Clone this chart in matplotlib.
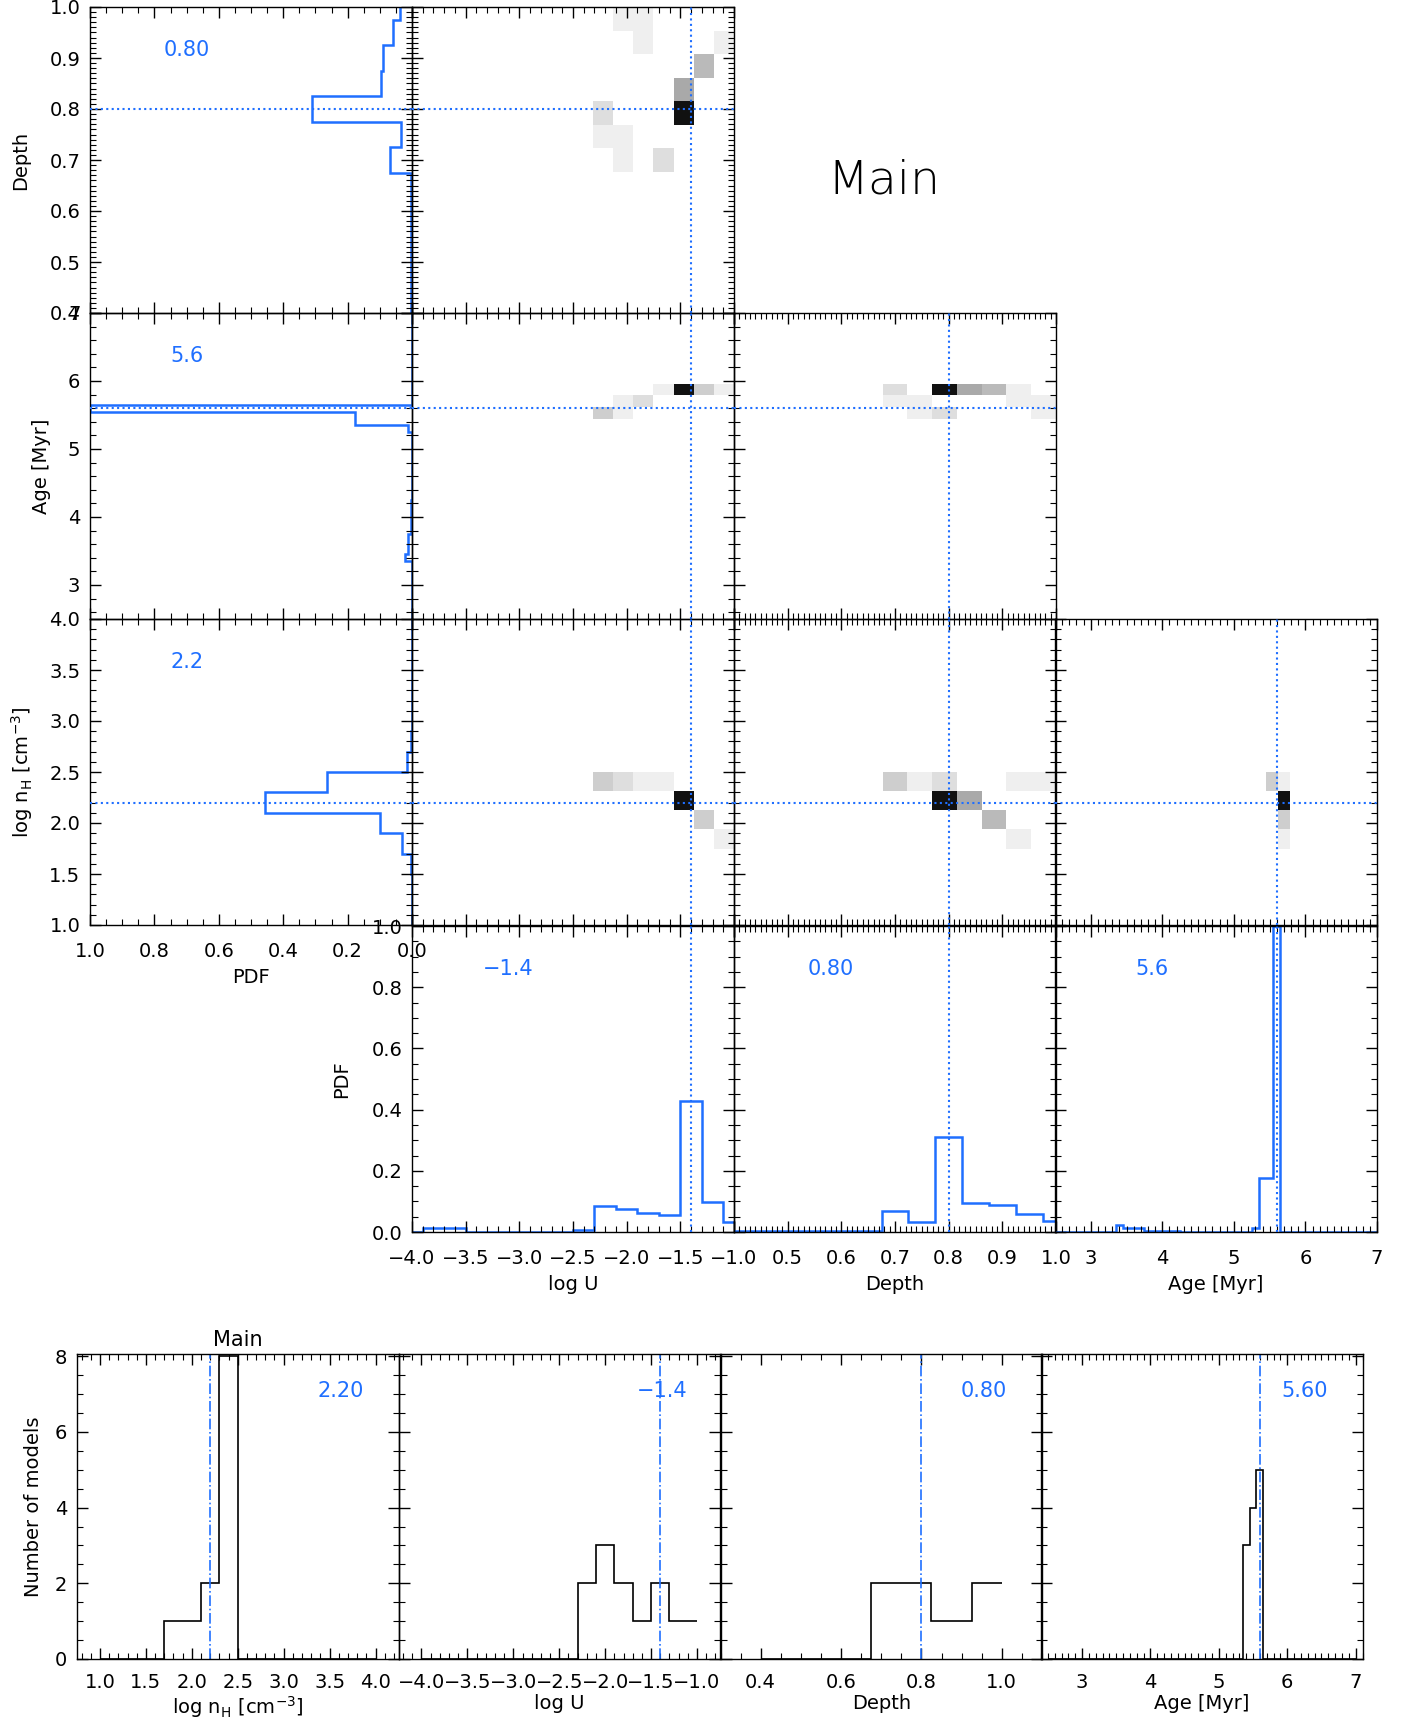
import matplotlib
matplotlib.use("Agg")
import matplotlib.pyplot as plt
import numpy as np
from matplotlib.ticker import MultipleLocator, FuncFormatter, NullFormatter
from matplotlib.colors import LinearSegmentedColormap

BLUE = "#1f6fff"
FS = 14

# ---------------- data ----------------
logu_grid = np.round(np.arange(-4.0, -0.99, 0.2), 2)    # 16 models
depth_grid = np.round(np.arange(0.40, 1.001, 0.05), 3)  # 13 models
nh_grid = np.round(np.arange(1.0, 4.001, 0.2), 2)       # 16 models
age_grid = np.round(np.arange(2.5, 7.001, 0.1), 2)      # fine age grid

logu_pdf = [0.0, 0.014, 0.014, 0.0, 0.0, 0.0, 0.0, 0.0,
            0.008, 0.085, 0.074, 0.062, 0.055, 0.428, 0.098, 0.033]
depth_pdf = [0.002, 0.002, 0.002, 0.002, 0.002, 0.003, 0.068,
             0.034, 0.312, 0.096, 0.089, 0.058, 0.037]
nh_pdf = [0.0, 0.0, 0.0, 0.003, 0.032, 0.100, 0.456, 0.265,
          0.015, 0.004, 0.0, 0.0, 0.0, 0.0, 0.0, 0.0]
age_pdf_at = [3.4, 3.5, 3.6, 3.7, 3.8, 3.9, 4.0, 4.1, 4.2, 5.3, 5.4, 5.5, 5.6]
age_pdf_val = [0.022, 0.012, 0.012, 0.012, 0.004, 0.004, 0.004, 0.004, 0.003,
               0.012, 0.178, 0.178, 1.0]

best = {"logu": -1.4, "depth": 0.80, "age": 5.6, "nh": 2.2}
best_txt = {"logu": "\u22121.4", "depth": "0.80", "age": "5.6", "nh": "2.2"}
best_txt_bottom = {"nh": "2.20", "logu": "\u22121.4", "depth": "0.80", "age": "5.60"}

# 2D probability maps: (x index, y index, darkness)
n_cells = {"logu": 16, "depth": 13, "nh": 16, "age": 26}
cells = {
    ("logu", "depth"): [(10, 12, 0.07), (11, 12, 0.07), (11, 11, 0.07), (15, 11, 0.07),
                        (14, 10, 0.29), (13, 9, 0.36), (13, 8, 1.0), (9, 8, 0.14),
                        (9, 7, 0.07), (10, 7, 0.07), (10, 6, 0.07), (12, 6, 0.14)],
    ("logu", "age"): [(12, 19, 0.07), (13, 19, 1.0), (14, 19, 0.21), (15, 19, 0.07),
                      (10, 18, 0.07), (11, 18, 0.14), (9, 17, 0.21), (10, 17, 0.07)],
    ("depth", "age"): [(6, 19, 0.14), (8, 19, 1.0), (9, 19, 0.36), (10, 19, 0.29),
                       (11, 19, 0.07), (6, 18, 0.07), (7, 18, 0.07), (11, 18, 0.07),
                       (12, 18, 0.07), (7, 17, 0.07), (8, 17, 0.14), (12, 17, 0.07)],
    ("logu", "nh"): [(9, 7, 0.21), (10, 7, 0.14), (11, 7, 0.07), (12, 7, 0.07),
                     (13, 6, 1.0), (14, 5, 0.21), (15, 4, 0.07)],
    ("depth", "nh"): [(6, 7, 0.21), (7, 7, 0.07), (8, 7, 0.14), (11, 7, 0.07),
                      (12, 7, 0.07), (8, 6, 1.0), (9, 6, 0.36), (10, 5, 0.29),
                      (11, 4, 0.07)],
    ("age", "nh"): [(17, 7, 0.21), (18, 7, 0.07), (18, 6, 1.0), (18, 5, 0.21),
                    (18, 4, 0.07)],
}

# number of models histograms (bottom row)
nh_counts = [0, 0, 0, 0, 1, 1, 2, 8, 0, 0, 0, 0, 0, 0, 0, 0]
logu_counts = [0, 0, 0, 0, 0, 0, 0, 0, 0, 2, 3, 2, 1, 2, 1, 1]
depth_counts = [0, 0, 0, 0, 0, 0, 2, 2, 2, 1, 1, 2, 2]
age_count_at = [5.4, 5.5, 5.6]
age_count_val = [3, 4, 5]

labels = {"logu": "log U", "depth": "Depth", "age": "Age [Myr]",
          "nh": r"log n$_{\rm H}$ [cm$^{-3}$]"}

# ---------------- helpers ----------------
age_pdf = np.zeros(len(age_grid))
age_counts = np.zeros(len(age_grid))
for a, v in zip(age_pdf_at, age_pdf_val):
    age_pdf[np.argmin(np.abs(age_grid - a))] = v
for a, v in zip(age_count_at, age_count_val):
    age_counts[np.argmin(np.abs(age_grid - a))] = v

grids = {"logu": logu_grid, "depth": depth_grid, "nh": nh_grid, "age": age_grid}
pdfs = {"logu": logu_pdf, "depth": depth_pdf, "nh": nh_pdf, "age": age_pdf}
counts = {"logu": logu_counts, "depth": depth_counts, "nh": nh_counts, "age": age_counts}

spec = {
    "logu": dict(lim=(-4.0, -1.0), major=0.5, minor=0.1, fmt="{:.1f}"),
    "depth": dict(lim=(0.4, 1.0), major=0.1, minor=0.01, fmt="{:.1f}"),
    "age": dict(lim=(2.5, 7.0), major=1.0, minor=0.2, fmt="{:.0f}"),
    "nh": dict(lim=(1.0, 4.0), major=0.5, minor=0.1, fmt="{:.1f}"),
    "pdf": dict(lim=(0.0, 1.0), major=0.2, minor=0.05, fmt="{:.1f}"),
}

gray_cmap = LinearSegmentedColormap.from_list("g", ["#ffffff", "#111111"])


def step_edges(centers):
    # IDL psym=10 style: steps at midpoints, line from first to last center
    c = np.asarray(centers, dtype=float)
    mids = 0.5 * (c[1:] + c[:-1])
    return np.concatenate([[c[0]], mids, [c[-1]]])


def fmt_func(fmt, skip=()):
    def f(v, pos):
        if any(abs(v - s) < 1e-6 for s in skip):
            return ""
        if abs(v) < 1e-9:
            v = 0.0
        s = fmt.format(v)
        if s.startswith("-"):
            s = "\u2212" + s[1:]
        return s
    return FuncFormatter(f)


def set_axis(axis, key, show=True, skip=(), minor=None):
    sp = spec[key]
    axis.set_major_locator(MultipleLocator(sp["major"]))
    axis.set_minor_locator(MultipleLocator(minor if minor else sp["minor"]))
    if show:
        axis.set_major_formatter(fmt_func(sp["fmt"], skip))
    else:
        axis.set_major_formatter(NullFormatter())


def style(ax):
    ax.tick_params(which="both", direction="in", top=True, right=True,
                   labelsize=FS, colors="black")
    ax.tick_params(which="major", length=8, width=1.0)
    ax.tick_params(which="minor", length=4, width=0.8)
    ax.tick_params(axis="x", pad=12)
    ax.tick_params(axis="y", pad=7)
    for s in ax.spines.values():
        s.set_linewidth(1.0)


W, H = 1408, 1722


def rect(x0, y0, w, h):
    return [x0 / W, 1 - (y0 + h) / H, w / W, h / H]


fig = plt.figure(figsize=(W / 100, H / 100), dpi=100)

col_x = [90, 412, 734, 1055]
row_y = [7, 313, 619, 926]
cw, rh = 322, 306
row_keys = ["depth", "age", "nh"]
col_keys = ["logu", "depth", "age"]
dots = dict(color=BLUE, lw=1.5, linestyle=(0, (1, 1.6)), zorder=5)
ylab_x = {"depth": -0.186, "age": -0.12, "nh": -0.17}

# column 0: marginal PDFs drawn sideways
for i, key in enumerate(row_keys):
    ax = fig.add_axes(rect(col_x[0], row_y[i], cw, rh), facecolor="none")
    ax.stairs(pdfs[key], step_edges(grids[key]), orientation="horizontal",
              baseline=None, color=BLUE, lw=1.8)
    ax.axhline(best[key], **dots)
    ax.set_xlim(1.0, 0.0)
    ax.set_ylim(*spec[key]["lim"])
    set_axis(ax.xaxis, "pdf", show=(i == 2))
    set_axis(ax.yaxis, key)
    style(ax)
    ax.text(0.30, 0.86, best_txt[key], transform=ax.transAxes, color=BLUE,
            fontsize=15, ha="center", va="center")
    ax.set_ylabel(labels[key], fontsize=FS)
    ax.yaxis.set_label_coords(ylab_x[key], 0.5)
    if i == 2:
        ax.set_xlabel("PDF", fontsize=FS)
        ax.xaxis.set_label_coords(0.5, -0.14)

# 2D maps
for i, ykey in enumerate(row_keys):
    for j, xkey in enumerate(col_keys[: i + 1]):
        ax = fig.add_axes(rect(col_x[j + 1], row_y[i], cw, rh), facecolor="none")
        nx, ny = n_cells[xkey], n_cells[ykey]
        z = np.zeros((ny, nx))
        for ix, iy, w in cells[(xkey, ykey)]:
            z[iy, ix] = w
        xe = np.linspace(*spec[xkey]["lim"], nx + 1)
        ye = np.linspace(*spec[ykey]["lim"], ny + 1)
        z = np.ma.masked_equal(z, 0)
        ax.pcolormesh(xe, ye, z, cmap=gray_cmap, vmin=0, vmax=1, shading="flat")
        ax.axvline(best[xkey], **dots)
        ax.axhline(best[ykey], **dots)
        ax.set_xlim(*spec[xkey]["lim"])
        ax.set_ylim(*spec[ykey]["lim"])
        set_axis(ax.xaxis, xkey, show=False, minor=0.1 if xkey == "age" else None)
        set_axis(ax.yaxis, ykey, show=False)
        style(ax)

# bottom row of the corner: marginal PDFs
for j, key in enumerate(col_keys):
    ax = fig.add_axes(rect(col_x[j + 1], row_y[3], cw, rh), facecolor="none")
    ax.stairs(pdfs[key], step_edges(grids[key]), baseline=None, color=BLUE, lw=1.8)
    ax.axvline(best[key], **dots)
    ax.set_xlim(*spec[key]["lim"])
    ax.set_ylim(0.0, 1.0)
    set_axis(ax.xaxis, key, skip=(0.4,) if key == "depth" else (),
             minor=0.1 if key == "age" else None)
    set_axis(ax.yaxis, "pdf", show=(j == 0))
    style(ax)
    ax.text(0.30, 0.86, best_txt[key], transform=ax.transAxes, color=BLUE,
            fontsize=15, ha="center", va="center")
    ax.set_xlabel(labels[key], fontsize=FS)
    ax.xaxis.set_label_coords(0.5, -0.14)
    if j == 0:
        ax.set_ylabel("PDF", fontsize=FS)
        ax.yaxis.set_label_coords(-0.19, 0.5)

fig.text(884 / W, 1 - 181 / H, "Main", fontsize=34, ha="center", va="center",
         fontweight="light")

# ---------------- number of models ----------------
bx = [77, 398.5, 720.5, 1041]
bw, bh, by = 321.5, 305, 1354
bottom_keys = ["nh", "logu", "depth", "age"]
bottom_spec = {
    "nh": dict(lim=(0.75, 4.25), major=0.5, minor=0.1, fmt="{:.1f}"),
    "logu": dict(lim=(-4.25, -0.75), major=0.5, minor=0.1, fmt="{:.1f}"),
    "depth": dict(lim=(0.3, 1.1), major=0.2, minor=0.05, fmt="{:.1f}"),
    "age": dict(lim=(2.4, 7.1), major=1.0, minor=0.1, fmt="{:.0f}"),
}
for k, key in enumerate(bottom_keys):
    ax = fig.add_axes(rect(bx[k], by, bw, bh), facecolor="none")
    ax.stairs(counts[key], step_edges(grids[key]), baseline=None, color="black", lw=1.2)
    ax.axvline(best[key], color=BLUE, lw=1.2, linestyle="-.")
    bs = bottom_spec[key]
    ax.set_xlim(*bs["lim"])
    ax.set_ylim(0, 8.06)
    ax.xaxis.set_major_locator(MultipleLocator(bs["major"]))
    ax.xaxis.set_minor_locator(MultipleLocator(bs["minor"]))
    ax.xaxis.set_major_formatter(fmt_func(bs["fmt"]))
    ax.yaxis.set_major_locator(MultipleLocator(2))
    ax.yaxis.set_minor_locator(MultipleLocator(0.5))
    if k > 0:
        ax.yaxis.set_major_formatter(NullFormatter())
    style(ax)
    ax.tick_params(axis="x", pad=10)
    ax.text(0.82, 0.88, best_txt_bottom[key], transform=ax.transAxes, color=BLUE,
            fontsize=15, ha="center", va="center")
    ax.set_xlabel(labels[key], fontsize=FS)
    ax.xaxis.set_label_coords(0.5, -0.115)
    if k == 0:
        ax.set_ylabel("Number of models", fontsize=FS)
        ax.yaxis.set_label_coords(-0.105, 0.5)
        ax.set_title("Main", fontsize=15, pad=6)

fig.savefig("out.png", dpi=100)
